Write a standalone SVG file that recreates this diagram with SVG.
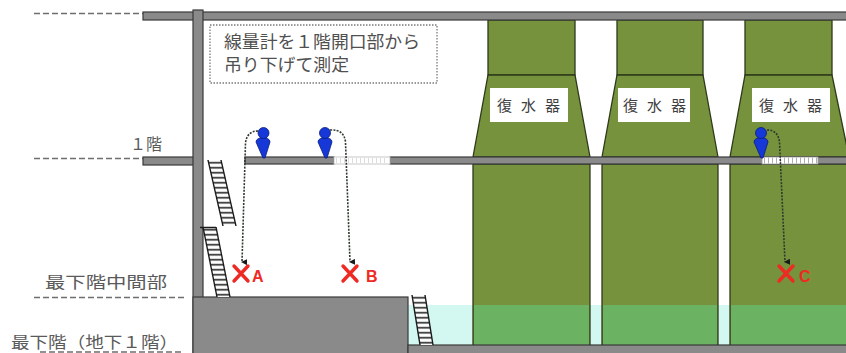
<svg xmlns="http://www.w3.org/2000/svg" width="846" height="353" viewBox="0 0 846 353">
  <style>
    .jp { font-family: "Noto Sans CJK JP", "Noto Sans", sans-serif; }
    .lvl { font-size: 16px; fill: #5a5a5a; }
    .guide { stroke: #6e6e6e; stroke-width: 1.6; stroke-dasharray: 6 3; fill: none; }
    .slab { fill: #8a8a8a; stroke: #3a3a3a; stroke-width: 1.2; }
    .cond { fill: #76923c; stroke: #2e3a1a; stroke-width: 1.3; }
    .water { fill: #6cb263; }
    .tag { fill: #ffffff; }
    .tagtxt { font-size: 15px; fill: #404040; letter-spacing: 9px; }
    .rail { stroke: #1a1a1a; stroke-width: 1.4; }
    .rope { fill: none; stroke: #2f3a2f; stroke-width: 1.6; stroke-dasharray: 2 1.3; }
    .xmark { stroke: #ee2a24; stroke-width: 3.4; stroke-linecap: round; }
    .ptlbl { font-family: "Liberation Sans", Arial, sans-serif; font-weight: bold; font-size: 16px; fill: #ee2a24; }
    .person { fill: #1638d8; stroke: #0b1c78; stroke-width: 0.8; }
    .grate { fill: #ffffff; stroke: #c8c8c8; stroke-width: 1; }
  </style>
  <defs>
    <pattern id="rungs" width="20" height="5" patternUnits="userSpaceOnUse">
      <rect x="0" y="2" width="20" height="1.6" fill="#1a1a1a"/>
    </pattern>
    <pattern id="grateLines" width="4" height="10" patternUnits="userSpaceOnUse">
      <rect x="0" y="0" width="1" height="10" fill="#9a9a9a"/>
    </pattern>
    <marker id="drop" markerWidth="6" markerHeight="6" refX="3" refY="5" orient="auto-start-reverse" markerUnits="userSpaceOnUse" viewBox="0 0 6 6">
      <path d="M0,0 L6,0 L3,6 Z" fill="#1a1a1a"/>
    </marker>
  </defs>

  <rect width="846" height="353" fill="#ffffff"/>

  <!-- level guide lines -->
  <g id="guides">
    <line class="guide" x1="34" y1="13.5" x2="143" y2="13.5"/>
    <line class="guide" x1="34" y1="158.5" x2="143" y2="158.5"/>
    <line class="guide" x1="34" y1="297.5" x2="184" y2="297.5"/>
    <line class="guide" x1="40" y1="352" x2="184" y2="352"/>
    <text class="jp lvl" x="130" y="150" font-size="16">１階</text>
    <text class="jp lvl" x="45" y="288" textLength="122" lengthAdjust="spacingAndGlyphs">最下階中間部</text>
    <text class="jp lvl" x="11" y="348" textLength="167" lengthAdjust="spacingAndGlyphs">最下階（地下１階）</text>
  </g>

  <!-- pool water at the lowest level -->
  <rect x="408" y="305" width="438" height="40" fill="#d3f7f1"/>

  <!-- condensers -->
  <g id="condenser-1">
    <rect class="cond" x="488" y="20" width="87" height="55"/>
    <path class="cond" d="M488,75 L575,75 L590,157 L473,157 Z"/>
    <rect class="cond" x="473" y="164" width="117" height="181"/>
    <rect class="water" x="474" y="305" width="115" height="40"/>
    <rect class="tag" x="490" y="88" width="78" height="34"/>
    <text class="jp tagtxt" x="533" y="111" text-anchor="middle">復水器</text>
  </g>
  <g id="condenser-2">
    <rect class="cond" x="617" y="20" width="86" height="55"/>
    <path class="cond" d="M617,75 L703,75 L718,157 L602,157 Z"/>
    <rect class="cond" x="602" y="164" width="116" height="181"/>
    <rect class="water" x="603" y="305" width="114" height="40"/>
    <rect class="tag" x="618" y="88" width="72" height="34"/>
    <text class="jp tagtxt" x="659" y="111" text-anchor="middle">復水器</text>
  </g>
  <g id="condenser-3">
    <rect class="cond" x="745" y="20" width="87" height="55"/>
    <path class="cond" d="M745,75 L832,75 L849,157 L730,157 Z"/>
    <rect class="cond" x="730" y="164" width="120" height="181"/>
    <rect class="water" x="731" y="305" width="118" height="40"/>
    <rect class="tag" x="752" y="88" width="78" height="34"/>
    <text class="jp tagtxt" x="795" y="111" text-anchor="middle">復水器</text>
  </g>

  <!-- building structure -->
  <g id="structure">
    <rect class="slab" x="143" y="12" width="705" height="8"/>
    <rect class="slab" x="143" y="157" width="56" height="8"/>
    <rect class="slab" x="245" y="157" width="89" height="7"/>
    <rect class="slab" x="390" y="157" width="458" height="7"/>
    <rect class="slab" x="193" y="10" width="10" height="345"/>
    <rect class="slab" x="193" y="297" width="215" height="58"/>
    <rect class="slab" x="408" y="345" width="440" height="10"/>
  </g>

  <!-- floor openings -->
  <g id="opening-1">
    <rect class="grate" x="334" y="157" width="56" height="7"/>
    <rect x="336" y="158" width="52" height="5" fill="url(#grateLines)" opacity="0.35"/>
  </g>
  <g id="opening-2">
    <rect x="762" y="157" width="56" height="7" fill="#ffffff" stroke="#9a9a9a" stroke-width="0.8"/>
    <rect x="763" y="157.5" width="54" height="6" fill="url(#grateLines)" opacity="0.8"/>
  </g>

  <!-- ladders -->
  <g id="ladder-upper" transform="translate(208,160) skewX(12.8)">
    <rect width="13" height="66" fill="#ffffff"/>
    <rect width="13" height="66" fill="url(#rungs)"/>
    <line class="rail" x1="0" y1="0" x2="0" y2="66"/>
    <line class="rail" x1="13" y1="0" x2="13" y2="66"/>
  </g>
  <g id="ladder-lower" transform="translate(203,227) skewX(11.3)">
    <rect width="13" height="70" fill="#ffffff"/>
    <rect width="13" height="70" fill="url(#rungs)"/>
    <line class="rail" x1="0" y1="0" x2="0" y2="70"/>
    <line class="rail" x1="13" y1="0" x2="13" y2="70"/>
    <line class="rail" x1="-3" y1="0.5" x2="13" y2="0.5"/>
  </g>
  <g id="ladder-pool" transform="translate(412,295) skewX(9.1)">
    <rect width="13" height="50" fill="#ffffff"/>
    <rect width="13" height="50" fill="url(#rungs)"/>
    <line class="rail" x1="0" y1="0" x2="0" y2="50"/>
    <line class="rail" x1="13" y1="0" x2="13" y2="50"/>
  </g>

  <!-- note -->
  <g id="note">
    <rect x="210" y="25" width="227" height="58" fill="#ffffff" stroke="#7a7a7a" stroke-width="1.3" stroke-dasharray="1.5 1.5"/>
    <text class="jp" x="224" y="48" font-size="17.5" fill="#505050" textLength="196" lengthAdjust="spacingAndGlyphs">線量計を１階開口部から</text>
    <text class="jp" x="224" y="71" font-size="17.5" fill="#505050" textLength="125" lengthAdjust="spacingAndGlyphs">吊り下げて測定</text>
  </g>

  <!-- workers lowering dosimeters -->
  <g id="worker-1">
    <path class="person" d="M256,142 C256,136 270,136 270,142 L265,158 L263,158 Z"/>
    <circle class="person" cx="263.5" cy="133" r="5.5"/>
  </g>
  <g id="worker-2">
    <path class="person" d="M318,142 C318,136 332,136 332,142 L327,158 L325,158 Z"/>
    <circle class="person" cx="325" cy="133" r="5.5"/>
  </g>
  <g id="worker-3">
    <path class="person" d="M754,142 C754,136 768,136 768,142 L763,158 L761,158 Z"/>
    <circle class="person" cx="761" cy="133" r="5.5"/>
  </g>

  <!-- dosimeter lines -->
  <g id="connectors">
    <path class="rope" d="M258,131 Q247,131 245.5,143 L242,262" marker-end="url(#drop)"/>
    <path class="rope" d="M330,130 Q344,129 345.5,142 L350,262" marker-end="url(#drop)"/>
    <path class="rope" d="M767,130 Q778,130 779.5,142 L785,262" marker-end="url(#drop)"/>
  </g>

  <!-- measurement points -->
  <g id="point-A">
    <path class="xmark" d="M234,266 L248,281 M248,266 L234,281"/>
    <text class="ptlbl" x="252" y="282">A</text>
  </g>
  <g id="point-B">
    <path class="xmark" d="M343,266 L357,281 M357,266 L343,281"/>
    <text class="ptlbl" x="366" y="282">B</text>
  </g>
  <g id="point-C">
    <path class="xmark" d="M779,266 L793,281 M793,266 L779,281"/>
    <text class="ptlbl" x="799" y="282">C</text>
  </g>
</svg>
